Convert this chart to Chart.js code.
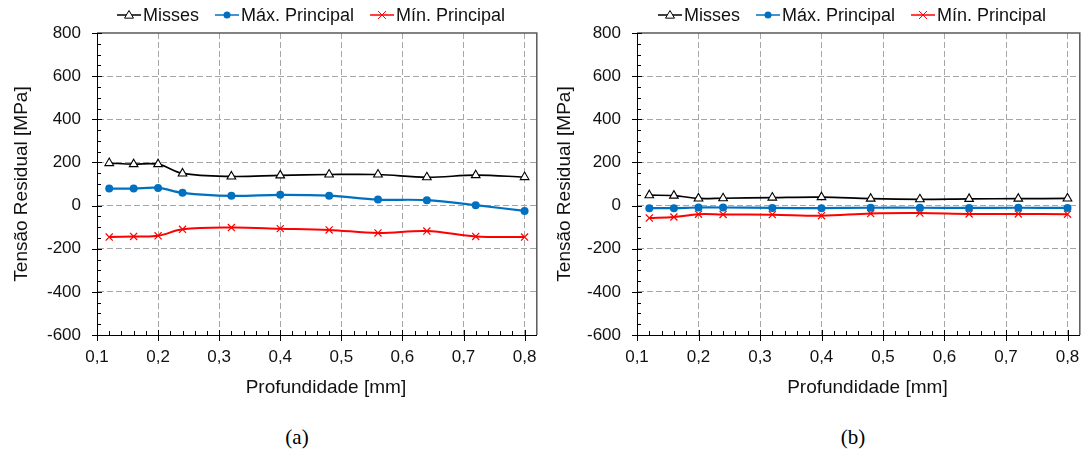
<!DOCTYPE html>
<html>
<head>
<meta charset="utf-8">
<script src="https://cdn.jsdelivr.net/npm/chart.js@4.4.1/dist/chart.umd.min.js"></script>
<style>
  html, body { margin: 0; padding: 0; background: #fff; }
  body { width: 1086px; height: 451px; position: relative; overflow: hidden; }
  .panel { position: absolute; top: 0; width: 543px; height: 410px; }
  .caption { position: absolute; top: 425px; width: 60px; text-align: center;
             font: 21px 'Liberation Serif', 'Times New Roman', serif; color: #000; }
</style>
</head>
<body>
<div class="panel" style="left:0"><canvas id="chart-a"></canvas></div>
<div class="panel" style="left:543px"><canvas id="chart-b"></canvas></div>
<div class="caption" style="left:267px">(a)</div>
<div class="caption" style="left:823px">(b)</div>

<script>
// Profundidade [mm]
const depths = [0.12, 0.16, 0.2, 0.24, 0.32, 0.4, 0.48, 0.56, 0.64, 0.72, 0.8];

// (a)
const missesA = [197, 192, 192, 149, 135, 140, 144, 144, 131, 141, 132];
const maxA    = [79, 79, 82, 59, 45, 50, 46, 28, 25, 2, -25];
const minA    = [-146, -143, -140, -110, -102, -107, -113, -127, -118, -143, -146];

// (b)
const missesB = [48, 46, 33, 34, 37, 39, 32, 29, 31, 32, 33];
const maxB    = [-12, -12, -9, -9, -11, -12, -10, -10, -11, -10, -11];
const minB    = [-58, -53, -40, -41, -42, -47, -37, -35, -39, -39, -40];

const seriesNames = ['Misses', 'Máx. Principal', 'Mín. Principal'];
const xTitle = 'Profundidade [mm]';
const yTitle = 'Tensão Residual [MPa]';

const xTicks = [0.1, 0.2, 0.3, 0.4, 0.5, 0.6, 0.7, 0.8];
const yTicks = [-600, -400, -200, 0, 200, 400, 600, 800];
const xRange = [0.1, 0.82];
const yRange = [-600, 800];
const xMinorStep = 0.02;
const yMinorStep = 50;

Chart.defaults.font.family = "'Liberation Sans', Arial, sans-serif";
Chart.defaults.color = '#111';

// Excel-like frame: solid top/right border, crossing major ticks, inner minor ticks,
// and the x axis title sitting a little right of the plot centre
const axisFrame = {
  id: 'axisFrame',
  afterDraw(chart, args, opts) {
    const { ctx, chartArea: { left, right, top, bottom }, scales: { x, y } } = chart;
    ctx.save();
    ctx.strokeStyle = '#595959';
    ctx.lineWidth = 1.5;
    ctx.beginPath();
    ctx.moveTo(left, top);
    ctx.lineTo(right, top);
    ctx.lineTo(right, bottom);
    ctx.stroke();

    ctx.strokeStyle = '#000';
    ctx.lineWidth = 1;
    ctx.beginPath();
    const nx = Math.round((xTicks[xTicks.length - 1] - xTicks[0]) / xMinorStep);
    for (let i = 0; i <= nx; i++) {
      const px = Math.round(x.getPixelForValue(xTicks[0] + i * xMinorStep)) + 0.5;
      const major = i % 5 === 0;
      ctx.moveTo(px, bottom + (major ? 6 : 0));
      ctx.lineTo(px, bottom - (major ? 5 : 4));
    }
    const ny = Math.round((yRange[1] - yRange[0]) / yMinorStep);
    for (let i = 0; i <= ny; i++) {
      const py = Math.round(y.getPixelForValue(yRange[0] + i * yMinorStep)) + 0.5;
      const major = i % 4 === 0;
      ctx.moveTo(left - (major ? 5 : 0), py);
      ctx.lineTo(left + (major ? 5 : 4), py);
    }
    ctx.stroke();

    ctx.font = "19px 'Liberation Sans', Arial, sans-serif";
    ctx.fillStyle = '#111';
    ctx.textAlign = 'center';
    ctx.textBaseline = 'middle';
    ctx.fillText(xTitle, (left + right) / 2 + opts.titleShift, opts.titleY);
    ctx.restore();
  }
};

// Legend with a short line segment and the series marker
const lineLegend = {
  id: 'lineLegend',
  afterDraw(chart, args, opts) {
    const { ctx } = chart;
    ctx.save();
    ctx.font = "18px 'Liberation Sans', Arial, sans-serif";
    ctx.textBaseline = 'middle';
    let x = opts.x;
    const y = opts.y;
    chart.data.datasets.forEach(ds => {
      ctx.strokeStyle = ds.borderColor;
      ctx.lineWidth = 1.5;
      ctx.beginPath();
      ctx.moveTo(x, y);
      ctx.lineTo(x + 24, y);
      ctx.stroke();
      const cx = x + 12;
      ctx.lineWidth = 1;
      ctx.fillStyle = ds.pointBackgroundColor;
      ctx.strokeStyle = ds.pointBorderColor;
      if (ds.pointStyle === 'triangle') {
        const r = 4.5;
        ctx.beginPath();
        ctx.moveTo(cx, y - r);
        ctx.lineTo(cx + r, y + r * 0.7);
        ctx.lineTo(cx - r, y + r * 0.7);
        ctx.closePath();
        ctx.fill();
        ctx.stroke();
      } else if (ds.pointStyle === 'circle') {
        ctx.beginPath();
        ctx.arc(cx, y, 3.5, 0, Math.PI * 2);
        ctx.fill();
      } else {
        const r = 4;
        ctx.beginPath();
        ctx.moveTo(cx - r, y - r); ctx.lineTo(cx + r, y + r);
        ctx.moveTo(cx + r, y - r); ctx.lineTo(cx - r, y + r);
        ctx.stroke();
      }
      ctx.fillStyle = '#111';
      ctx.fillText(ds.label, x + 26, y + 1);
      x += 26 + ctx.measureText(ds.label).width + 16;
    });
    ctx.restore();
  }
};

function points(values) {
  return depths.map((d, i) => ({ x: d, y: values[i] }));
}

function makeChart(id, misses, maxP, minP, yAxisWidth, legendX) {
  const ctx = document.getElementById(id).getContext('2d');
  return new Chart(ctx, {
    type: 'line',
    data: {
      datasets: [
        {
          label: seriesNames[0],
          data: points(misses),
          borderColor: '#000',
          borderWidth: 1.7,
          pointStyle: 'triangle',
          pointRadius: 5,
          pointBackgroundColor: '#fff',
          pointBorderColor: '#000',
          pointBorderWidth: 1.1,
          tension: 0.35
        },
        {
          label: seriesNames[1],
          data: points(maxP),
          borderColor: '#0070C0',
          borderWidth: 2.2,
          pointStyle: 'circle',
          pointRadius: 4,
          pointBackgroundColor: '#0070C0',
          pointBorderColor: '#0070C0',
          pointBorderWidth: 0,
          tension: 0.35
        },
        {
          label: seriesNames[2],
          data: points(minP),
          borderColor: '#FF0000',
          borderWidth: 2,
          pointStyle: 'crossRot',
          pointRadius: 5,
          pointBackgroundColor: '#FF0000',
          pointBorderColor: '#FF0000',
          pointBorderWidth: 1.2,
          tension: 0.35
        }
      ]
    },
    options: {
      responsive: true,
      maintainAspectRatio: false,
      animation: false,
      layout: { padding: { top: 33, right: 6, left: 0, bottom: 0 } },
      plugins: {
        legend: { display: false },
        tooltip: { enabled: false },
        lineLegend: { x: legendX, y: 15 },
        axisFrame: { titleShift: 9, titleY: 388 }
      },
      scales: {
        x: {
          type: 'linear',
          min: xRange[0],
          max: xRange[1],
          afterBuildTicks: (scale) => { scale.ticks = xTicks.map(v => ({ value: v })); },
          afterFit: (scale) => {
            scale.height = 75;
            scale.paddingLeft = 0;
            scale.paddingRight = 0;
          },
          ticks: {
            padding: 12,
            font: { size: 17 },
            color: '#111',
            callback: (v) => v.toFixed(1).replace('.', ',')
          },
          grid: { color: '#a6a6a6', lineWidth: 1, drawTicks: false },
          border: { display: true, color: '#000', width: 1, dash: [6, 3] },
          title: { display: false }
        },
        y: {
          min: yRange[0],
          max: yRange[1],
          afterBuildTicks: (scale) => { scale.ticks = yTicks.map(v => ({ value: v })); },
          afterFit: (scale) => { scale.width = yAxisWidth; },
          ticks: {
            padding: 16,
            font: { size: 17 },
            color: '#111'
          },
          grid: {
            color: (c) => (c.tick && c.tick.value === yRange[1]) ? 'rgba(0,0,0,0)' : '#a6a6a6',
            lineWidth: 1,
            drawTicks: false
          },
          border: { display: true, color: '#000', width: 1, dash: [6, 3] },
          title: {
            display: true,
            text: yTitle,
            font: { size: 19, lineHeight: 1 },
            color: '#111',
            padding: { top: 12, bottom: 0 }
          }
        }
      }
    },
    plugins: [axisFrame, lineLegend]
  });
}

makeChart('chart-a', missesA, maxA, minA, 97, 117);
makeChart('chart-b', missesB, maxB, minB, 94, 115);
</script>
</body>
</html>
